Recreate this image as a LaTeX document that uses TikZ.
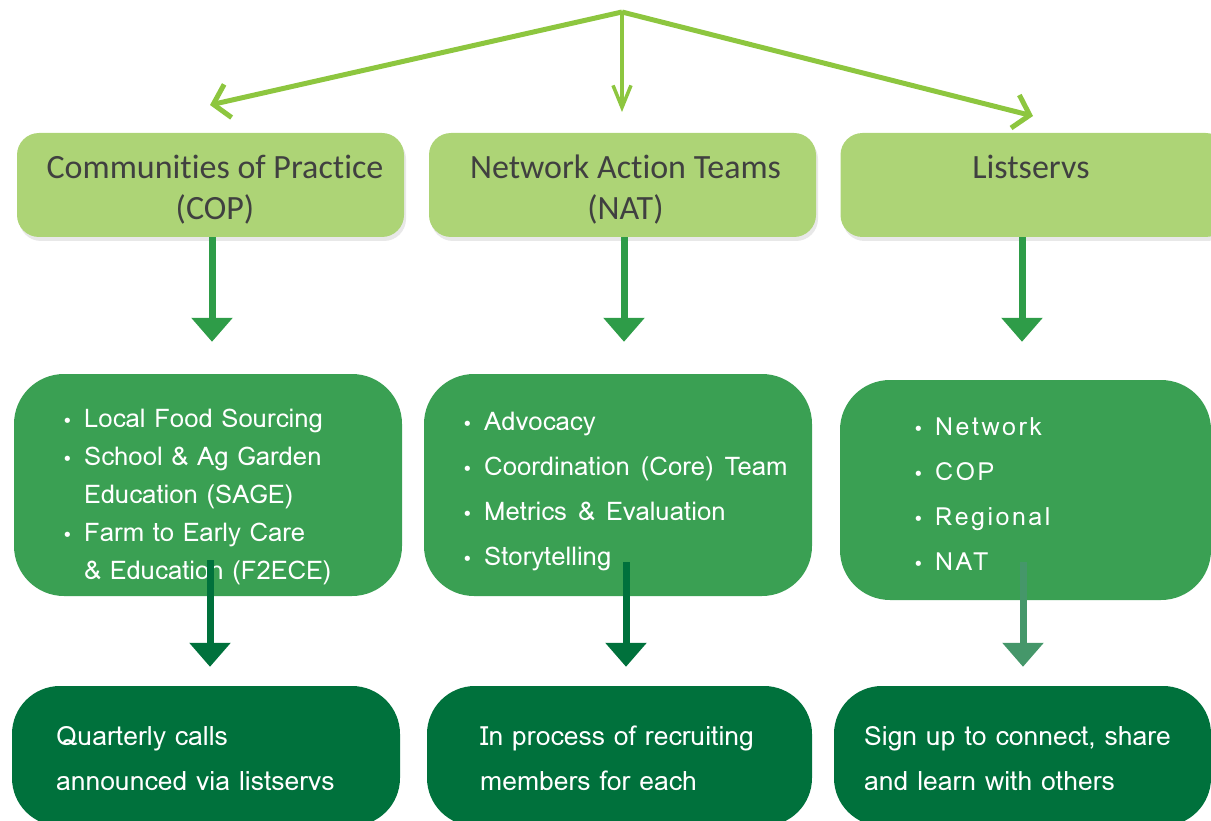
\documentclass[tikz,border=0pt]{standalone}
\usepackage{fontspec}
\setmainfont{Carlito}[Ligatures=NoCommon]
\newfontfamily\bodyfont{Loma}
\newfontfamily\spacedfont[LetterSpace=10]{Loma}
\newfontfamily\symfont{DejaVu Sans}
\usetikzlibrary{arrows.meta,shadows}
\definecolor{limeline}{HTML}{8DC63F}
\definecolor{topgreen}{HTML}{ADD476}
\definecolor{textgrey}{HTML}{404040}
\definecolor{midarrowc}{HTML}{2E9C48}
\definecolor{midgreen}{HTML}{3AA053}
\definecolor{lowarrowc}{HTML}{00713C}
\definecolor{lowarrowl}{HTML}{45976A}
\definecolor{botgreen}{HTML}{00713C}
\newcommand{\bl}{\makebox[22pt][l]{\symfont\fontsize{18}{18}\selectfont •}}
\newcommand{\ind}{\hspace*{22pt}}
\tikzset{
  topbox/.style={fill=topgreen, rounded corners=22pt, minimum width=387pt, minimum height=104pt, inner sep=0pt,
    drop shadow={opacity=0.18, shadow xshift=2pt, shadow yshift=-4pt}},
  toptext/.style={inner sep=0pt, text=textgrey, font=\fontsize{34}{41}\selectfont, align=center},
  midbox/.style={fill=midgreen, rounded corners=50pt, minimum width=388pt, minimum height=222pt, inner sep=0pt},
  botbox/.style={fill=botgreen, rounded corners=48pt, minimum width=388pt, minimum height=140pt, inner sep=0pt},
  listtext/.style={anchor=north west, inner sep=0pt, text=white, align=left, font=\bodyfont\fontsize{25.7}{38}\selectfont},
  bottext/.style={anchor=north west, inner sep=0pt, text=white, align=left, font=\bodyfont\fontsize{26.5}{45}\selectfont},
  topline/.style={draw=limeline, line width=5pt, -{Straight Barb[length=15pt,width=34pt]}},
  midline/.style={draw=limeline, line width=3.5pt, -{Straight Barb[length=22pt,width=18pt]}},
  downarrow/.style={line width=7pt, -{Triangle[length=24pt,width=40pt]}},
}
\begin{document}
\begin{tikzpicture}[x=1pt,y=-1pt]
\useasboundingbox (0,0) rectangle (1211,821);
\clip (0,0) rectangle (1211,821);
% top row
\node[topbox] (cop1) at (210.5,185) {};
\node[topbox] (nat1) at (622.5,185) {};
\node[topbox] (ls1) at (1034,185) {};
\node[toptext] (cop1t) at (215,190) {Communities of Practice\\(COP)};
\node[toptext] (nat1t) at (625.5,190) {Network Action Teams\\(NAT)};
\node[toptext] (ls1t) at (1031,190) {Listservs\\\phantom{(NAT)}};
% middle row
\node[midbox] (cop2) at (208,485) {};
\node[midbox] (nat2) at (618,485) {};
\node[midbox, minimum width=371pt, minimum height=220pt] (ls2) at (1025.5,490) {};
% bottom row
\node[botbox] (cop3) at (206,756) {};
\node[botbox, minimum width=385pt] (nat3) at (619.5,756) {};
\node[botbox, minimum width=377pt] (ls3) at (1022.5,756) {};
% texts
\node[listtext] (cop2t) at (62,409) {\bl Local Food Sourcing\\\bl School \& Ag Garden\\\ind Education (SAGE)\\\bl Farm to Early Care\\\ind \& Education (F2ECE)};
\node[listtext, font=\bodyfont\fontsize{25.7}{45}\selectfont, execute at begin node={\spaceskip=11pt plus 2pt}] (nat2t) at (462,412) {\bl Advocacy\\\bl Coordination (Core) Team\\\bl Metrics \& Evaluation\\\bl Storytelling};
\node[listtext, font=\spacedfont\fontsize{25}{45}\selectfont] (ls2t) at (913,417) {\bl Network\\\bl COP\\\bl Regional\\\bl NAT};
\node[bottext] (cop3t) at (56,726) {Quarterly calls\\announced via listservs};
\node[bottext] (nat3t) at (480,726) {In process of recruiting\\members for each};
\node[bottext] (ls3t) at (864,726) {Sign up to connect, share\\and learn with others};
% top arrows
\coordinate (apex) at (622,12);
\coordinate (tipl) at (210,105);
\coordinate (tipm) at (622,112);
\coordinate (tipr) at (1033,116);
\draw[topline] (apex) -- (tipl);
\draw[topline] (apex) -- (tipr);
\draw[midline] (apex) -- (tipm);
% arrows row1 -> row2
\draw[downarrow, draw=midarrowc, fill=midarrowc, shorten >=32pt] (cop1.south -| 212,0) -- (cop2.north -| 212,0);
\draw[downarrow, draw=midarrowc, fill=midarrowc, shorten >=32pt] (nat1.south -| 624,0) -- (nat2.north -| 624,0);
\draw[downarrow, draw=midarrowc, fill=midarrowc, shorten >=38pt] (ls1.south -| 1022,0) -- (ls2.north -| 1022,0);
% arrows row2 -> row3
\draw[downarrow, draw=lowarrowc, fill=lowarrowc, shorten >=19pt] ([yshift=36pt]cop2.south -| 210,0) -- (cop3.north -| 210,0);
\draw[downarrow, draw=lowarrowc, fill=lowarrowc, shorten >=19pt] ([yshift=34pt]nat2.south -| 626,0) -- (nat3.north -| 626,0);
\draw[downarrow, draw=lowarrowl, fill=lowarrowl, shorten >=19pt] ([yshift=38pt]ls2.south -| 1023,0) -- (ls3.north -| 1023,0);
\end{tikzpicture}
\end{document}
